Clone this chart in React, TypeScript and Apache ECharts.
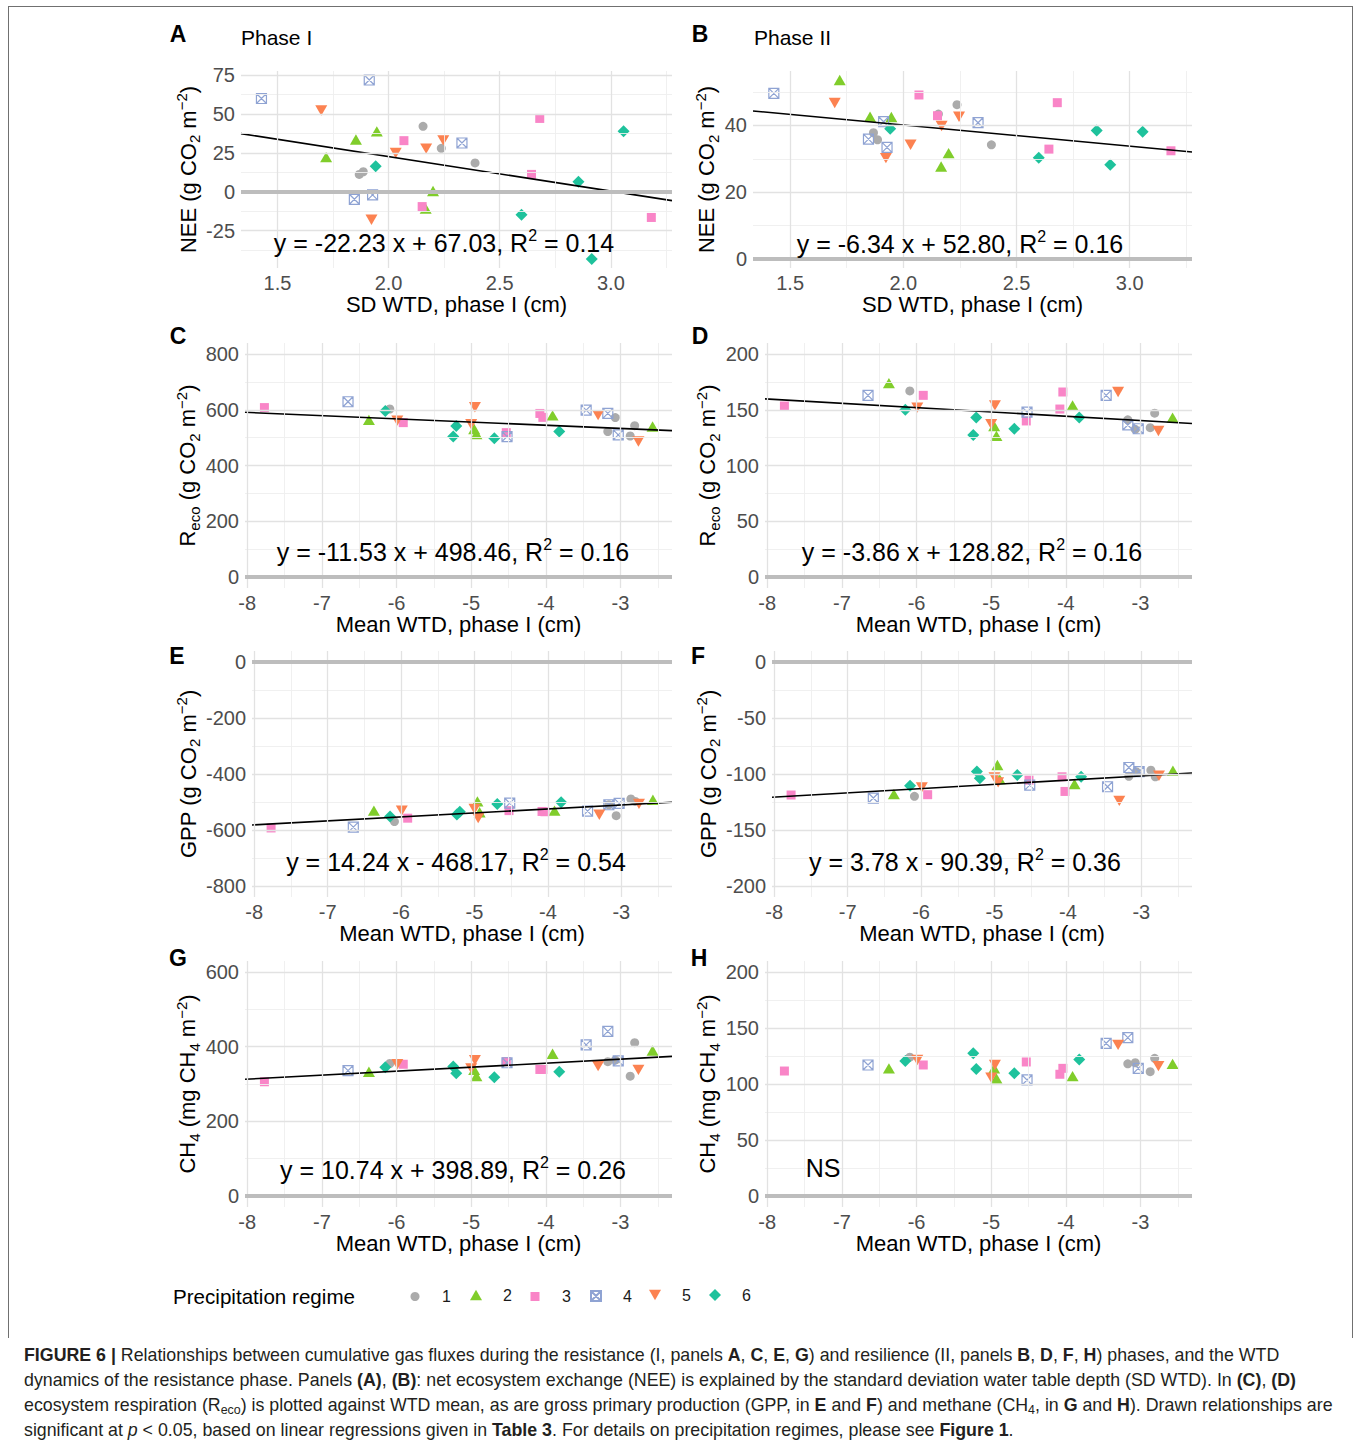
import React, { useEffect, useRef } from "react";
import * as echarts from "echarts";

const FONT = "'Liberation Sans', Arial, Helvetica, sans-serif";

// ---------------- groups ----------------
const regimeNames = ["1", "2", "3", "4", "5", "6"];
const regimeColors = ["#ababab", "#80cd2b", "#f985c7", "#8fa3d3", "#fc8251", "#1ec29c"];
const regimeSymbols = [
  "circle",
  "path://M5,0L10,8.66L0,8.66Z",
  "rect",
  "path://M0,0L10,0L10,10L0,10Z M0,0L10,10 M10,0L0,10",
  "path://M0,0L10,0L5,8.66Z",
  "diamond",
];
const regimeSizes = [9, 12, 9, 10, 12, 12];
const legendSizes = [9, 12, 9, 10, 12, 12];

// ---------------- x values (one row per regime, 5 plots each) ----------------
const sdWTD = [
  [2.155, 2.237, 2.389, 1.868, 1.886],
  [1.719, 1.853, 1.947, 2.2, 2.167],
  [2.069, 2.68, 2.643, 2.151, 3.182],
  [1.428, 1.913, 2.33, 1.846, 1.928],
  [1.697, 2.032, 2.169, 2.246, 1.923],
  [1.942, 3.057, 2.854, 2.598, 2.914],
];
const meanWTD = [
  [-6.09, -3.17, -3.07, -2.87, -2.81],
  [-6.37, -4.96, -4.93, -3.91, -2.57],
  [-7.77, -5.91, -4.53, -4.08, -4.04],
  [-6.65, -4.52, -3.46, -3.17, -3.03],
  [-5.99, -5.0, -4.95, -3.3, -2.76],
  [-6.15, -5.24, -5.2, -4.69, -3.82],
];

// ---------------- y values ----------------
const neePhaseI = [
  [42, 27.9, 18.5, 11.1, 12.8],
  [22.2, 33.5, 38.8, 0.4, -10.9],
  [32.8, 47.1, 11.1, -9.6, -16.6],
  [59.9, 71.8, 31.3, -4.9, -2.1],
  [52.2, 24.9, 27.7, 33, -18.1],
  [16.4, 38.8, 6.4, -14.9, -43.3],
];
const neePhaseII = [
  [43.4, 46.2, 34.2, 37.8, 35.7],
  [53.6, 42.6, 42.5, 31.7, 27.7],
  [49.1, 46.8, 32.9, 42.9, 32.4],
  [49.6, 41.1, 40.8, 35.9, 33.4],
  [46.7, 34.2, 39.8, 42.6, 30.2],
  [39, 38.1, 38.5, 30.3, 28.2],
];
const recoPhaseI = [
  [603, 522, 572, 506, 543],
  [564, 531, 513, 580, 540],
  [608, 554, 518, 587, 573],
  [629, 504, 599, 587, 510],
  [561, 548, 609, 581, 486],
  [596, 504, 542, 498, 522],
];
const recoPhaseII = [
  [167, 141, 132.5, 134, 147],
  [174, 135.5, 126.6, 154, 143],
  [153.4, 163, 140, 150.7, 166],
  [163, 148, 163, 136.4, 133],
  [152, 137, 154, 166, 131],
  [150, 127.5, 143, 133, 143],
];
const gppPhaseI = [
  [-570, -510, -549, -489, -498],
  [-531, -498, -537, -531, -492],
  [-593, -558, -531, -534, -535],
  [-590, -504, -533, -510, -505],
  [-531, -525, -558, -546, -507],
  [-552, -545, -535, -507, -501],
];
const gppPhaseII = [
  [-120, -102, -98, -96.6, -102.5],
  [-118, -92, -104.6, -109, -97],
  [-118.8, -118.5, -105.5, -102.5, -115.6],
  [-121.5, -110, -111.4, -94.2, -97.8],
  [-112, -103, -107.5, -124, -101.6],
  [-110.5, -97.8, -103.7, -101, -102.5],
];
const ch4PhaseI = [
  [355, 360, 364, 321, 411],
  [333, 338, 321, 381, 390],
  [306, 353, 360, 339, 339],
  [336, 357, 405, 441, 362],
  [353, 342, 364, 348, 338],
  [345, 347, 329, 318, 333],
];
const ch4PhaseII = [
  [124, 118, 119, 111, 123],
  [114, 114, 105, 107, 118],
  [111.6, 117, 119.7, 108.7, 114],
  [117, 103.6, 136.4, 141.5, 114],
  [121.5, 105.7, 117, 135, 116],
  [120.6, 127.5, 113.4, 109.6, 122],
];

// ---------------- regressions (null = NS) ----------------
const regSlope = [-22.23, -6.34, -11.53, -3.86, 14.24, 3.78, 10.74, null];
const regIntercept = [67.03, 52.8, 498.46, 128.82, -468.17, -90.39, 398.89, null];
const regR2 = [0.14, 0.16, 0.16, 0.16, 0.54, 0.36, 0.26, null];

// ---------------- ticks ----------------
const sdTicks = [1.5, 2.0, 2.5, 3.0];
const sdMinor = [1.75, 2.25, 2.75, 3.25];
const meanTicks = [-8, -7, -6, -5, -4, -3];
const meanMinor = [-7.5, -6.5, -5.5, -4.5, -3.5, -2.5];
const neeITicks = [-25, 0, 25, 50, 75];
const neeIMinor = [-37.5, -12.5, 12.5, 37.5, 62.5];
const neeIITicks = [0, 20, 40];
const neeIIMinor = [10, 30, 50];
const recoITicks = [0, 200, 400, 600, 800];
const recoIMinor = [100, 300, 500, 700];
const recoIITicks = [0, 50, 100, 150, 200];
const recoIIMinor = [25, 75, 125, 175];
const gppITicks = [-800, -600, -400, -200, 0];
const gppIMinor = [-700, -500, -300, -100];
const gppIITicks = [-200, -150, -100, -50, 0];
const gppIIMinor = [-175, -125, -75, -25];
const ch4ITicks = [0, 200, 400, 600];
const ch4IMinor = [100, 300, 500];
const ch4IITicks = [0, 50, 100, 150, 200];
const ch4IIMinor = [25, 75, 125, 175];

// ---------------- texts ----------------
const panelLetters = ["A", "B", "C", "D", "E", "F", "G", "H"];
const phaseTitles = ["Phase I", "Phase II"];
const xNameSD = "SD WTD, phase I (cm)";
const xNameMean = "Mean WTD, phase I (cm)";
const yNameNEE = "{t|NEE (g CO}{sb|2}{t| m}{sp|−2}{t|)}";
const yNameReco = "{t|R}{sb|eco}{t| (g CO}{sb|2}{t| m}{sp|−2}{t|)}";
const yNameGPP = "{t|GPP (g CO}{sb|2}{t| m}{sp|−2}{t|)}";
const yNameCH4 = "{t|CH}{sb|4}{t| (mg CH}{sb|4}{t| m}{sp|−2}{t|)}";
const legendTitle = "Precipitation regime";

// ---------------- layout ----------------
const GRIDS = [
  { left: 241, top: 71, width: 431, height: 197 },
  { left: 753, top: 71, width: 439, height: 197 },
  { left: 245, top: 343, width: 427, height: 245 },
  { left: 765, top: 343, width: 427, height: 245 },
  { left: 252, top: 651, width: 420, height: 246 },
  { left: 772, top: 651, width: 420, height: 246 },
  { left: 245, top: 961, width: 427, height: 246 },
  { left: 765, top: 961, width: 427, height: 246 },
];
const LETTER_POS = [
  [178, 34], [700, 34], [178, 336], [700, 336], [177, 656], [698, 656], [178, 958], [699, 958],
];
const EQ_POS = [
  [444, 243], [960, 244], [453, 552], [972, 552], [456, 862], [965, 862], [453, 1170], [823, 1168],
];
const YTITLE_X = [188.5, 708.5];
const LEGEND_X = [415, 476, 535, 595, 655, 715];
const LEGEND_Y = 1296;
const LEGEND_ICON_Y = 1293;

const SD_RANGE = [1.336, 3.275];
const MEAN_RANGE = [-8.03, -2.31];

const panels = [
  { x: sdWTD, y: neePhaseI, xr: SD_RANGE, yr: [-49.1, 77.6], xt: sdTicks, xm: sdMinor, yt: neeITicks, ym: neeIMinor, xn: xNameSD, yn: yNameNEE, dig: 1 },
  { x: sdWTD, y: neePhaseII, xr: SD_RANGE, yr: [-2.68, 56.28], xt: sdTicks, xm: sdMinor, yt: neeIITicks, ym: neeIIMinor, xn: xNameSD, yn: yNameNEE, dig: 1 },
  { x: meanWTD, y: recoPhaseI, xr: MEAN_RANGE, yr: [-40, 840], xt: meanTicks, xm: meanMinor, yt: recoITicks, ym: recoIMinor, xn: xNameMean, yn: yNameReco, dig: 0 },
  { x: meanWTD, y: recoPhaseII, xr: MEAN_RANGE, yr: [-10, 210], xt: meanTicks, xm: meanMinor, yt: recoIITicks, ym: recoIIMinor, xn: xNameMean, yn: yNameReco, dig: 0 },
  { x: meanWTD, y: gppPhaseI, xr: MEAN_RANGE, yr: [-840, 40], xt: meanTicks, xm: meanMinor, yt: gppITicks, ym: gppIMinor, xn: xNameMean, yn: yNameGPP, dig: 0 },
  { x: meanWTD, y: gppPhaseII, xr: MEAN_RANGE, yr: [-210, 10], xt: meanTicks, xm: meanMinor, yt: gppIITicks, ym: gppIIMinor, xn: xNameMean, yn: yNameGPP, dig: 0 },
  { x: meanWTD, y: ch4PhaseI, xr: MEAN_RANGE, yr: [-30, 630], xt: meanTicks, xm: meanMinor, yt: ch4ITicks, ym: ch4IMinor, xn: xNameMean, yn: yNameCH4, dig: 0 },
  { x: meanWTD, y: ch4PhaseII, xr: MEAN_RANGE, yr: [-10, 210], xt: meanTicks, xm: meanMinor, yt: ch4IITicks, ym: ch4IIMinor, xn: xNameMean, yn: yNameCH4, dig: 0 },
];

const MAJOR = "#e2e2e2";
const MINOR = "#eeeeee";
const ZERO = "#bdbdbd";

const nameRich = {
  t: { fontSize: 22, fontFamily: FONT, color: "#000", lineHeight: 28 },
  sb: { fontSize: 15, fontFamily: FONT, color: "#000", verticalAlign: "bottom", lineHeight: 15 },
  sp: { fontSize: 15, fontFamily: FONT, color: "#000", verticalAlign: "top", lineHeight: 15 },
};

function eqText(i: number) {
  const s = regSlope[i] as number;
  const b = regIntercept[i] as number;
  const r = regR2[i] as number;
  return `{e|y = ${s.toFixed(2)} x ${b < 0 ? "-" : "+"} ${Math.abs(b).toFixed(2)}, R}{s|2}{e| = ${r.toFixed(2)}}`;
}

function buildOption() {
  const grid: any[] = [];
  const xAxis: any[] = [];
  const yAxis: any[] = [];
  const series: any[] = [];
  const graphic: any[] = [];

  panels.forEach((p, i) => {
    const g = GRIDS[i];
    const col = i % 2;
    grid.push({ ...g, containLabel: false });
    xAxis.push({
      type: "value",
      gridIndex: i,
      min: p.xr[0],
      max: p.xr[1],
      axisLine: { show: false },
      axisTick: { show: false },
      splitLine: { show: false },
      axisLabel: {
        customValues: p.xt,
        formatter: (v: number) => v.toFixed(p.dig),
        margin: 5,
        color: "#4d4d4d",
        fontSize: 20,
        fontFamily: FONT,
      },
      name: p.xn,
      nameLocation: "middle",
      nameGap: 23,
      nameTextStyle: { fontSize: 22, color: "#000", fontFamily: FONT },
    });
    yAxis.push({
      type: "value",
      gridIndex: i,
      min: p.yr[0],
      max: p.yr[1],
      axisLine: { show: false },
      axisTick: { show: false },
      splitLine: { show: false },
      axisLabel: {
        customValues: p.yt,
        formatter: (v: number) => String(v),
        margin: 6,
        color: "#4d4d4d",
        fontSize: 20,
        fontFamily: FONT,
      },
      name: p.yn,
      nameLocation: "middle",
      nameRotate: 90,
      nameGap: g.left - YTITLE_X[col] - 14,
      nameTextStyle: { rich: nameRich },
    });

    const lines: any[] = [];
    p.xm.forEach((v) => lines.push({ xAxis: v, lineStyle: { color: MINOR, width: 0.9, type: "solid" } }));
    p.ym.forEach((v) => lines.push({ yAxis: v, lineStyle: { color: MINOR, width: 0.9, type: "solid" } }));
    p.xt.forEach((v) => lines.push({ xAxis: v, lineStyle: { color: MAJOR, width: 1.3, type: "solid" } }));
    p.yt.forEach((v) => lines.push({ yAxis: v, lineStyle: { color: MAJOR, width: 1.3, type: "solid" } }));
    lines.push({ yAxis: 0, lineStyle: { color: ZERO, width: 4, type: "solid" } });

    series.push({
      type: "line",
      xAxisIndex: i,
      yAxisIndex: i,
      data: [],
      silent: true,
      z: 1,
      markLine: {
        silent: true,
        symbol: ["none", "none"],
        label: { show: false },
        lineStyle: { type: "solid" },
        emphasis: { disabled: true },
        animation: false,
        data: lines,
      },
    });

    regimeNames.forEach((name, r) => {
      const open = r === 3;
      series.push({
        type: "scatter",
        name,
        xAxisIndex: i,
        yAxisIndex: i,
        data: p.x[r].map((xv, k) => [xv, p.y[r][k]]),
        symbol: regimeSymbols[r],
        symbolSize: regimeSizes[r],
        symbolKeepAspect: true,
        itemStyle: open
          ? { color: "rgba(255,255,255,0)", borderColor: regimeColors[r], borderWidth: 1.2, opacity: 1 }
          : { color: regimeColors[r], borderWidth: 0, opacity: 1 },
        emphasis: { disabled: true },
        z: 3,
      });
    });

    if (regSlope[i] !== null) {
      const s = regSlope[i] as number;
      const b = regIntercept[i] as number;
      series.push({
        type: "line",
        xAxisIndex: i,
        yAxisIndex: i,
        data: [
          [p.xr[0], s * p.xr[0] + b],
          [p.xr[1], s * p.xr[1] + b],
        ],
        symbol: "none",
        lineStyle: { color: "#000", width: 1.6 },
        silent: true,
        emphasis: { disabled: true },
        z: 4,
      });
      graphic.push({
        type: "text",
        x: EQ_POS[i][0],
        y: EQ_POS[i][1],
        z: 10,
        style: {
          text: eqText(i),
          align: "center",
          verticalAlign: "middle",
          rich: {
            e: { fontSize: 25, fontFamily: FONT, fill: "#000", lineHeight: 31 },
            s: { fontSize: 16, fontFamily: FONT, fill: "#000", verticalAlign: "top", lineHeight: 16 },
          },
        },
      });
    } else {
      graphic.push({
        type: "text",
        x: EQ_POS[i][0],
        y: EQ_POS[i][1],
        z: 10,
        style: { text: "NS", fontSize: 25, fontFamily: FONT, fill: "#000", align: "center", verticalAlign: "middle" },
      });
    }

    graphic.push({
      type: "text",
      x: LETTER_POS[i][0],
      y: LETTER_POS[i][1],
      style: {
        text: panelLetters[i],
        fontSize: 23,
        fontWeight: "bold",
        fontFamily: FONT,
        fill: "#000",
        align: "center",
        verticalAlign: "middle",
      },
    });
  });

  graphic.push({
    type: "text", x: 241, y: 37,
    style: { text: phaseTitles[0], fontSize: 21, fontFamily: FONT, fill: "#000", align: "left", verticalAlign: "middle" },
  });
  graphic.push({
    type: "text", x: 754, y: 37,
    style: { text: phaseTitles[1], fontSize: 21, fontFamily: FONT, fill: "#000", align: "left", verticalAlign: "middle" },
  });
  graphic.push({
    type: "text", x: 173, y: LEGEND_Y,
    style: { text: legendTitle, fontSize: 20.6, fontFamily: FONT, fill: "#000", align: "left", verticalAlign: "middle" },
  });

  const legend = regimeNames.map((name, r) => {
    const sz = legendSizes[r];
    return {
      data: [name],
      left: LEGEND_X[r] - sz / 2,
      top: LEGEND_ICON_Y - sz / 2,
      itemWidth: sz,
      itemHeight: sz,
      padding: 0,
      selectedMode: false,
      formatter: (n: string) => `{t|${n}}`,
      textStyle: {
        rich: {
          t: { fontSize: 16, fontFamily: FONT, color: "#1a1a1a", padding: [0, 0, 0, 22 - sz / 2] },
        },
      },
    };
  });

  return {
    animation: false,
    backgroundColor: "#fff",
    grid,
    xAxis,
    yAxis,
    series,
    graphic,
    legend,
  };
}

export default function App() {
  const ref = useRef<HTMLDivElement>(null);
  useEffect(() => {
    const chart = echarts.init(ref.current as HTMLDivElement, null, { renderer: "svg" });
    chart.setOption(buildOption() as any);
    return () => chart.dispose();
  }, []);
  const border = "1.5px solid #707070";
  const subStyle: React.CSSProperties = { fontSize: "0.7em", lineHeight: 0, position: "relative", top: "0.25em", verticalAlign: "baseline" };
  return (
    <div style={{ position: "absolute", left: 0, top: 0, width: 1354, height: 1446, background: "#fff", fontFamily: FONT }}>
      <div ref={ref} style={{ position: "absolute", left: 0, top: 0, width: 1354, height: 1446 }} />
      <div
        style={{
          position: "absolute", left: 8, top: 6, width: 1345, height: 1332,
          borderTop: border, borderLeft: border, borderRight: border, pointerEvents: "none", boxSizing: "border-box",
        }}
      />
      <div
        style={{
          position: "absolute", left: 24, top: 1343, fontSize: 17.8, lineHeight: "25px", color: "#231f20",
          whiteSpace: "nowrap", fontFamily: FONT,
        }}
      >
        <b>FIGURE 6 |</b> Relationships between cumulative gas fluxes during the resistance (I, panels <b>A</b>, <b>C</b>, <b>E</b>, <b>G</b>) and resilience (II, panels <b>B</b>, <b>D</b>, <b>F</b>, <b>H</b>) phases, and the WTD
        <br />
        dynamics of the resistance phase. Panels <b>(A)</b>, <b>(B)</b>: net ecosystem exchange (NEE) is explained by the standard deviation water table depth (SD WTD). In <b>(C)</b>, <b>(D)</b>
        <br />
        ecosystem respiration (R<sub style={subStyle}>eco</sub>) is plotted against WTD mean, as are gross primary production (GPP, in <b>E</b> and <b>F</b>) and methane (CH<sub style={subStyle}>4</sub>, in <b>G</b> and <b>H</b>). Drawn relationships are
        <br />
        significant at <i>p</i> &lt; 0.05, based on linear regressions given in <b>Table 3</b>. For details on precipitation regimes, please see <b>Figure 1</b>.
      </div>
    </div>
  );
}
